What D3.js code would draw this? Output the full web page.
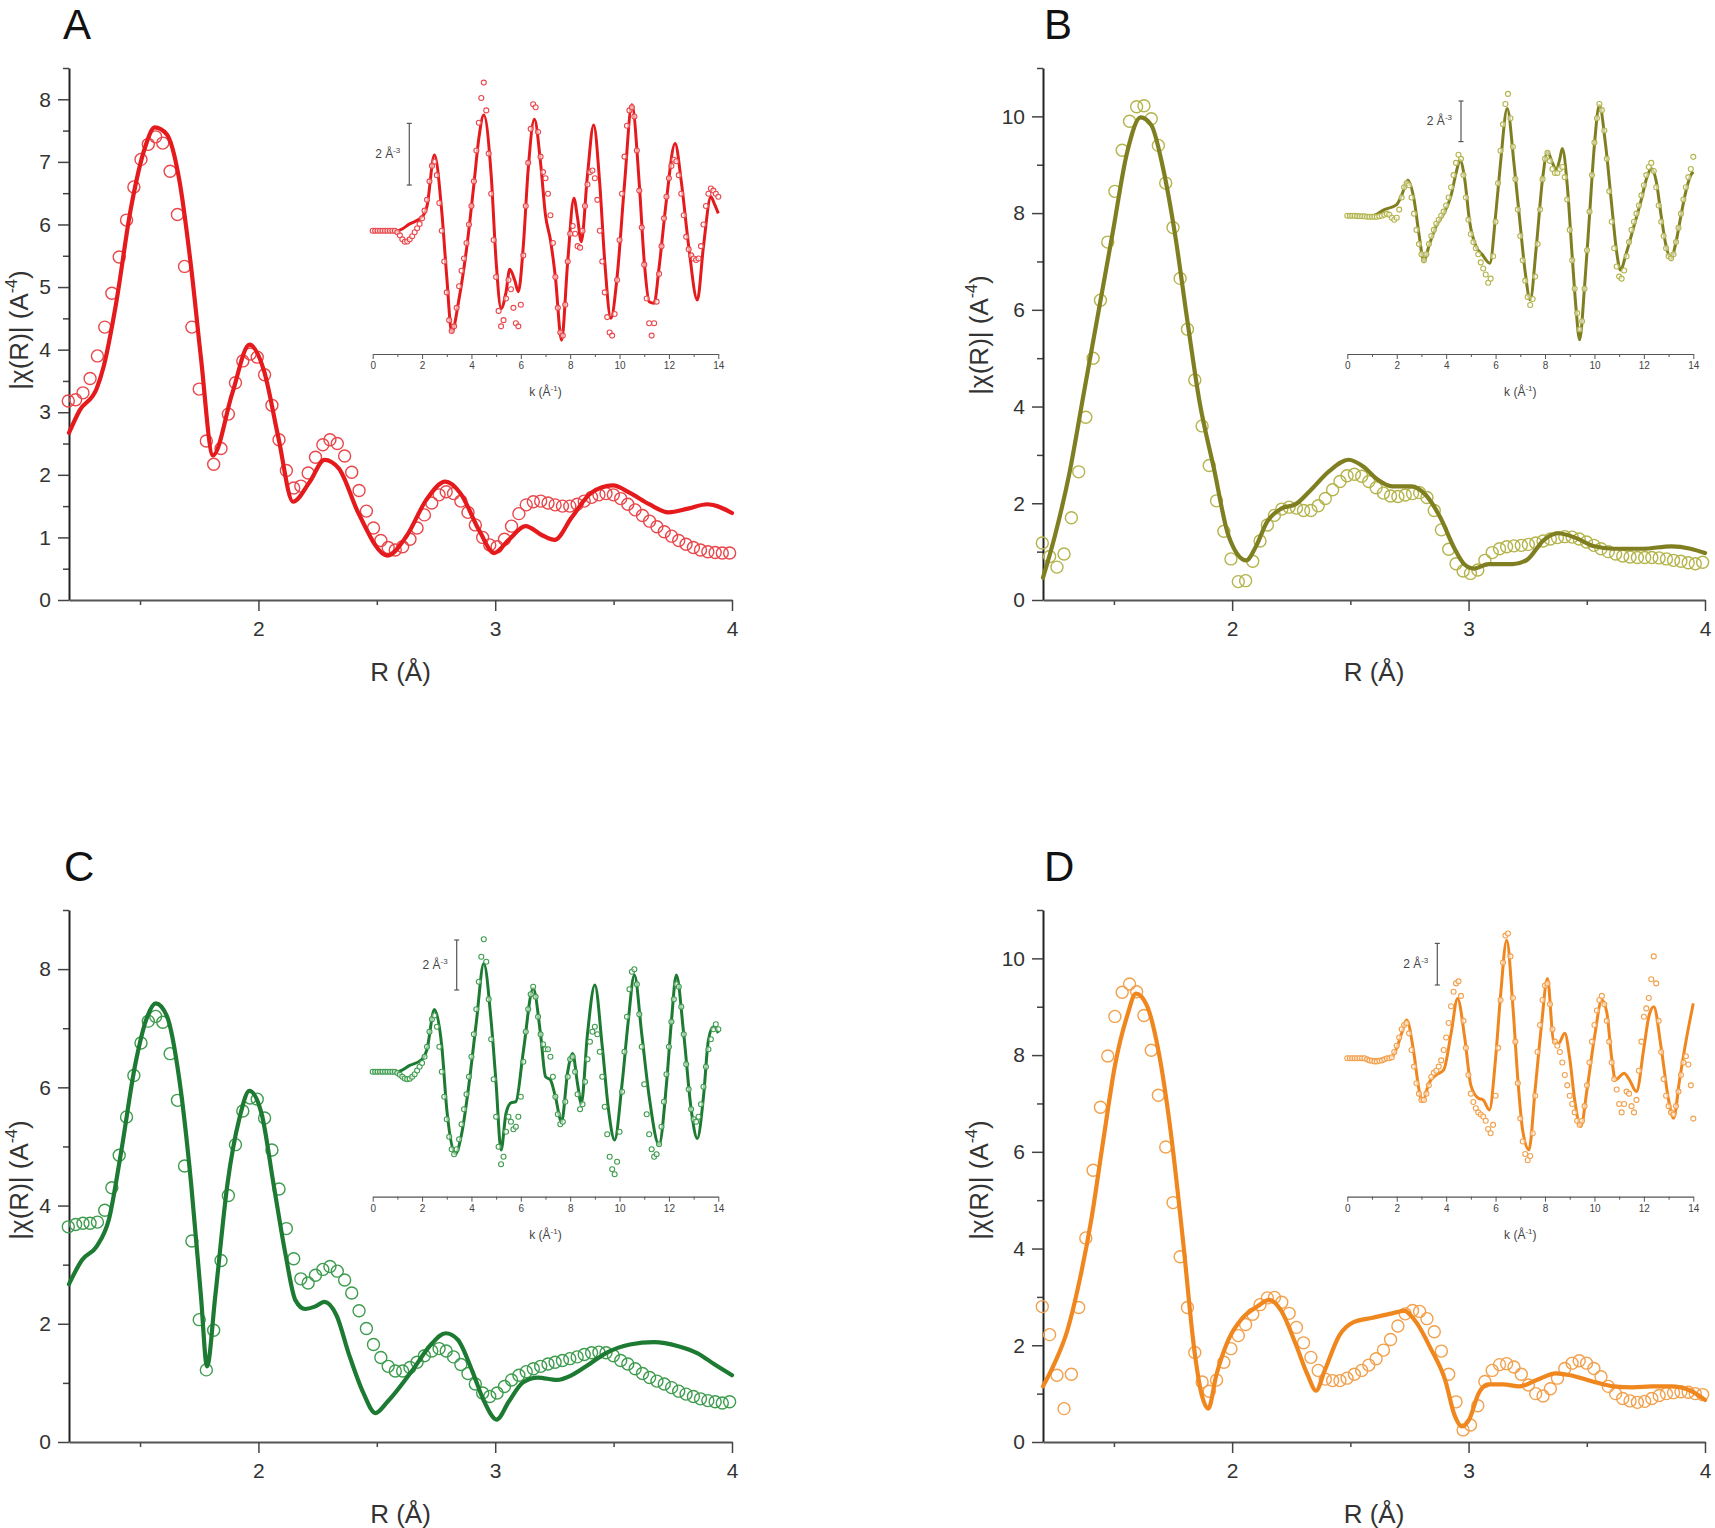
<!DOCTYPE html>
<html><head><meta charset="utf-8">
<script src="https://cdn.jsdelivr.net/npm/d3@7"></script>
<style>
body{margin:0;background:#fff}
svg{display:block}
text{font-family:"Liberation Sans",Arial,sans-serif}
</style>
</head><body>
<svg id="chart" width="1715" height="1528"></svg>
<script>
// ---------- DATA ----------
const rGrid = [1.197,1.228,1.259,1.289,1.320,1.351,1.381,1.412,1.443,1.474,1.504,1.535,1.566,1.596,1.627,1.658,1.688,1.719,1.750,1.780,1.811,1.842,1.873,1.903,1.934,1.965,1.995,2.026,2.057,2.087,2.118,2.149,2.179,2.210,2.241,2.272,2.302,2.333,2.364,2.394,2.425,2.456,2.486,2.517,2.548,2.578,2.609,2.640,2.670,2.701,2.732,2.763,2.793,2.824,2.855,2.885,2.916,2.947,2.977,3.008,3.039,3.069,3.100,3.131,3.161,3.192,3.223,3.253,3.284,3.315,3.346,3.376,3.407,3.438,3.468,3.499,3.530,3.560,3.591,3.622,3.652,3.683,3.714,3.745,3.775,3.806,3.837,3.867,3.898,3.929,3.959,3.990];

const dataA = [3.18,3.20,3.31,3.54,3.90,4.36,4.90,5.48,6.07,6.60,7.04,7.28,7.40,7.30,6.85,6.16,5.33,4.36,3.37,2.54,2.17,2.42,2.97,3.47,3.82,3.93,3.88,3.60,3.11,2.56,2.07,1.79,1.82,2.03,2.28,2.48,2.56,2.50,2.30,2.04,1.75,1.42,1.15,0.95,0.84,0.80,0.85,0.97,1.15,1.36,1.55,1.68,1.73,1.70,1.58,1.40,1.20,1.00,0.88,0.85,0.97,1.18,1.38,1.52,1.57,1.58,1.55,1.52,1.50,1.50,1.53,1.58,1.64,1.68,1.70,1.68,1.62,1.53,1.44,1.35,1.26,1.17,1.09,1.02,0.95,0.89,0.84,0.80,0.77,0.76,0.75,0.75];
const dataB = [1.18,0.90,0.68,0.95,1.70,2.65,3.78,5.00,6.20,7.40,8.45,9.30,9.90,10.20,10.22,9.95,9.40,8.62,7.70,6.65,5.60,4.55,3.60,2.78,2.05,1.42,0.85,0.38,0.40,0.80,1.22,1.55,1.75,1.88,1.92,1.90,1.85,1.85,1.95,2.10,2.28,2.45,2.57,2.60,2.56,2.45,2.32,2.21,2.15,2.14,2.17,2.20,2.22,2.12,1.85,1.45,1.05,0.75,0.60,0.55,0.62,0.82,0.98,1.06,1.10,1.12,1.13,1.15,1.18,1.22,1.26,1.29,1.31,1.30,1.26,1.20,1.13,1.06,1.00,0.95,0.91,0.89,0.88,0.88,0.88,0.87,0.85,0.82,0.80,0.77,0.75,0.78];
const dataC = [3.64,3.68,3.70,3.70,3.72,3.92,4.30,4.85,5.50,6.20,6.75,7.12,7.20,7.10,6.57,5.78,4.67,3.40,2.07,1.22,1.89,3.07,4.17,5.03,5.60,5.82,5.80,5.48,4.94,4.28,3.61,3.10,2.76,2.69,2.82,2.92,2.97,2.89,2.74,2.52,2.22,1.92,1.65,1.43,1.28,1.20,1.20,1.26,1.35,1.46,1.54,1.58,1.54,1.44,1.31,1.16,0.98,0.83,0.77,0.83,0.94,1.05,1.13,1.19,1.24,1.28,1.32,1.35,1.38,1.41,1.44,1.48,1.51,1.52,1.51,1.46,1.38,1.32,1.24,1.16,1.09,1.03,0.98,0.92,0.86,0.81,0.77,0.73,0.70,0.68,0.66,0.68];
const dataD = [2.80,2.22,1.38,0.69,1.40,2.78,4.22,5.62,6.92,7.98,8.80,9.30,9.47,9.31,8.82,8.10,7.17,6.10,4.95,3.83,2.78,1.85,1.24,1.05,1.28,1.65,1.93,2.20,2.43,2.64,2.84,2.98,2.99,2.89,2.66,2.37,2.05,1.75,1.48,1.30,1.27,1.27,1.32,1.40,1.48,1.59,1.72,1.90,2.12,2.40,2.65,2.72,2.70,2.55,2.28,1.88,1.40,0.83,0.25,0.35,0.75,1.25,1.48,1.60,1.62,1.55,1.40,1.18,1.00,0.95,1.10,1.32,1.52,1.63,1.68,1.63,1.52,1.35,1.15,1.00,0.90,0.85,0.82,0.84,0.90,0.96,1.00,1.02,1.04,1.03,1.00,0.98];

const fitA_R = [1.2,1.245,1.317,1.347,1.399,1.46,1.521,1.562,1.613,1.665,1.716,1.757,1.808,1.89,1.962,2.023,2.084,2.146,2.217,2.279,2.34,2.422,2.545,2.627,2.709,2.79,2.852,2.934,2.995,3.057,3.128,3.2,3.251,3.323,3.405,3.497,3.569,3.65,3.732,3.814,3.896,3.937,4.0];
const fitA_V = [2.67,3.03,3.38,3.74,4.74,6.23,7.23,7.55,7.44,6.73,5.31,3.88,2.31,3.31,4.08,3.67,2.60,1.57,1.89,2.24,2.10,1.39,0.71,1.03,1.60,1.89,1.71,1.10,0.75,0.96,1.18,1.03,0.96,1.32,1.71,1.83,1.71,1.53,1.40,1.46,1.53,1.50,1.39];
const fitB_R = [1.2,1.251,1.312,1.373,1.434,1.495,1.556,1.613,1.658,1.709,1.76,1.811,1.862,1.923,1.984,2.06,2.10,2.147,2.208,2.269,2.33,2.412,2.493,2.554,2.615,2.677,2.758,2.819,2.88,2.941,2.982,3.023,3.084,3.186,3.247,3.318,3.379,3.45,3.532,3.613,3.736,3.858,3.939,4.0];
const fitB_V = [0.46,1.34,2.63,4.29,5.94,7.60,9.26,9.98,9.82,8.90,7.51,5.76,4.10,2.72,1.34,0.82,1.10,1.61,1.89,1.98,2.26,2.67,2.90,2.76,2.49,2.35,2.35,2.17,1.71,1.06,0.74,0.65,0.74,0.74,0.83,1.24,1.38,1.29,1.11,1.06,1.06,1.11,1.06,0.97];
const fitC_R = [1.2,1.255,1.317,1.368,1.419,1.48,1.532,1.566,1.613,1.665,1.716,1.757,1.783,1.818,1.869,1.92,1.962,2.013,2.064,2.115,2.156,2.197,2.238,2.279,2.33,2.381,2.443,2.494,2.545,2.648,2.729,2.791,2.842,2.903,2.954,3.006,3.057,3.118,3.18,3.261,3.323,3.384,3.466,3.569,3.671,3.773,3.855,3.927,4.0];
const fitC_V = [2.67,3.08,3.31,3.76,4.88,6.39,7.21,7.42,7.21,6.16,4.36,2.48,1.28,2.48,4.36,5.48,5.94,5.56,4.36,3.16,2.40,2.25,2.29,2.37,2.14,1.50,0.83,0.49,0.68,1.20,1.65,1.84,1.73,1.20,0.68,0.38,0.68,1.01,1.09,1.05,1.13,1.28,1.50,1.65,1.69,1.62,1.50,1.31,1.13];
const fitD_R = [1.2,1.251,1.302,1.353,1.404,1.455,1.505,1.556,1.593,1.638,1.689,1.74,1.791,1.842,1.872,1.899,1.933,1.984,2.045,2.106,2.157,2.208,2.269,2.32,2.355,2.391,2.453,2.514,2.595,2.677,2.728,2.778,2.84,2.901,2.941,2.972,3.002,3.043,3.084,3.145,3.216,3.288,3.369,3.43,3.532,3.613,3.695,3.776,3.857,3.939,4.0];
const fitD_V = [1.15,1.65,2.29,3.30,4.59,6.24,7.80,8.81,9.27,9.04,8.07,6.42,4.22,1.83,0.96,0.69,1.38,2.11,2.57,2.80,2.94,2.71,2.02,1.38,1.06,1.47,2.20,2.48,2.57,2.66,2.71,2.48,1.93,1.28,0.55,0.32,0.46,1.01,1.19,1.19,1.15,1.28,1.42,1.38,1.24,1.15,1.13,1.15,1.15,1.06,0.87];

const kGrid = [0,0.1,0.2,0.3,0.4,0.5,0.6,0.7,0.8,0.9,1.0,1.1,1.2,1.3,1.4,1.5,1.6,1.7,1.8,1.9,2.0,2.1,2.2,2.3,2.4,2.5,2.6,2.7,2.8,2.9,3.0,3.1,3.2,3.3,3.4,3.5,3.6,3.7,3.8,3.9,4.0,4.1,4.2,4.3,4.4,4.5,4.6,4.7,4.8,4.9,5.0,5.1,5.2,5.3,5.4,5.5,5.6,5.7,5.8,5.9,6.0,6.1,6.2,6.3,6.4,6.5,6.6,6.7,6.8,6.9,7.0,7.1,7.2,7.3,7.4,7.5,7.6,7.7,7.8,7.9,8.0,8.1,8.2,8.3,8.4,8.5,8.6,8.7,8.8,8.9,9.0,9.1,9.2,9.3,9.4,9.5,9.6,9.7,9.8,9.9,10.0,10.1,10.2,10.3,10.4,10.5,10.6,10.7,10.8,10.9,11.0,11.1,11.2,11.3,11.4,11.5,11.6,11.7,11.8,11.9,12.0,12.1,12.2,12.3,12.4,12.5,12.6,12.7,12.8,12.9,13.0,13.1,13.2,13.3,13.4,13.5,13.6,13.7,13.8,13.9,14.0];

const insetDataA = [0,0,0,0,0,0,0,0,0,0,
 -0.05,-0.15,-0.28,-0.36,-0.35,-0.28,-0.18,-0.05,0.08,0.22,
 0.4,0.65,1.0,1.6,2.1,2.24,1.8,0.9,0.0,-1.0,
 -2.0,-2.9,-3.25,-3.1,-2.5,-1.8,-1.3,-0.9,-0.4,0.2,
 0.8,1.6,2.6,3.5,4.3,4.8,3.9,2.5,1.2,-0.3,
 -1.5,-2.6,-3.1,-2.9,-2.2,-1.6,-1.9,-2.5,-3.0,-3.1,
 -2.4,-0.8,0.8,2.2,3.3,4.1,4.0,3.2,2.4,1.9,
 1.7,1.2,0.5,-0.4,-1.5,-2.5,-3.3,-3.4,-2.4,-1.0,
 -0.1,0.15,-0.1,-0.5,-0.55,0.0,0.8,1.5,1.9,1.95,
 1.7,1.0,0.0,-1.0,-2.0,-2.8,-3.3,-3.4,-2.7,-1.6,
 -0.3,1.2,2.4,3.4,3.9,4.0,3.7,2.6,1.3,0.1,
 -1.1,-2.2,-3.0,-3.4,-3.0,-2.3,-1.4,-0.5,0.4,1.1,
 1.7,2.1,2.3,2.25,1.8,1.2,0.5,-0.2,-0.6,-0.8,
 -0.9,-0.95,-0.9,-0.5,0.2,0.8,1.2,1.37,1.3,1.2,
 1.1];
const insetDataB = [0,0,0,0,-0.02,-0.03,-0.03,-0.03,-0.05,-0.05,
 -0.05,-0.05,-0.05,-0.03,0.0,0.05,0.1,0.05,-0.1,-0.2,
 -0.1,0.3,0.9,1.4,1.6,1.5,0.9,0.1,-0.7,-1.4,
 -1.9,-2.2,-1.9,-1.4,-1.0,-0.7,-0.4,-0.2,0.0,0.2,
 0.5,0.9,1.4,2.0,2.6,3.0,2.8,2.0,0.9,-0.2,
 -0.9,-1.3,-1.6,-1.9,-2.3,-2.6,-2.9,-3.3,-3.1,-2.0,
 -0.3,1.6,3.2,4.5,5.5,6.0,4.8,3.4,1.8,0.3,
 -1.0,-2.2,-3.2,-4.0,-4.4,-4.1,-3.0,-1.4,0.3,1.8,
 2.8,3.1,2.7,2.3,2.1,2.1,2.3,2.4,1.9,0.8,
 -0.7,-2.2,-3.6,-4.8,-5.6,-5.2,-3.6,-1.7,0.2,2.0,
 3.6,4.8,5.5,5.2,4.2,2.8,1.2,-0.3,-1.6,-2.5,
 -3.0,-3.1,-2.7,-2.0,-1.3,-0.7,-0.3,0.1,0.5,1.0,
 1.5,2.0,2.4,2.6,2.2,1.4,0.5,-0.3,-1.0,-1.6,
 -2.0,-2.1,-1.9,-1.3,-0.6,0.1,0.8,1.4,1.9,2.3,
 2.9];
const insetDataC = [0,0,0,0,0,0,0,0,0,0,
 -0.05,-0.12,-0.2,-0.27,-0.3,-0.28,-0.2,-0.1,0.05,0.2,
 0.35,0.6,1.0,1.6,2.1,2.25,1.8,1.0,0.0,-1.0,
 -1.9,-2.6,-3.1,-3.3,-3.1,-2.7,-2.1,-1.5,-0.9,-0.2,
 0.6,1.5,2.5,3.6,4.6,5.3,4.4,2.9,1.3,-0.3,
 -1.8,-3.0,-3.7,-3.4,-2.4,-1.8,-2.0,-2.3,-2.2,-1.8,
 -1.0,0.4,1.6,2.5,3.1,3.4,3.0,2.2,1.5,1.1,
 0.9,0.9,0.6,-0.2,-1.0,-1.7,-2.1,-2.0,-1.2,-0.2,
 0.5,0.6,0.0,-0.9,-1.5,-1.3,-0.4,0.5,1.2,1.6,
 1.8,1.5,0.8,-0.2,-1.4,-2.5,-3.4,-3.9,-4.1,-3.6,
 -2.4,-0.8,0.8,2.2,3.3,4.0,4.1,3.5,2.3,1.0,
 -0.5,-1.7,-2.5,-3.1,-3.4,-3.3,-2.9,-2.2,-1.2,-0.1,
 1.0,2.0,2.9,3.5,3.4,2.6,1.5,0.3,-0.7,-1.5,
 -1.9,-2.0,-1.8,-1.3,-0.6,0.2,0.9,1.3,1.7,1.9,
 1.7];
const insetDataD = [0,0,0,0,0,0,0,0,-0.05,-0.1,
 -0.12,-0.15,-0.15,-0.12,-0.1,-0.05,0.0,0.0,0.05,0.3,
 0.6,1.0,1.4,1.6,1.7,1.2,0.4,-0.4,-1.2,-1.7,
 -2.0,-2.0,-1.7,-1.3,-0.9,-0.7,-0.6,-0.4,-0.1,0.4,
 1.0,1.7,2.5,3.2,3.6,3.7,3.0,1.8,0.5,-0.8,
 -1.7,-2.1,-2.4,-2.6,-2.7,-2.8,-3.0,-3.4,-3.6,-3.2,
 -1.8,0.5,2.8,4.6,5.9,6.0,4.9,2.9,0.8,-1.2,
 -2.9,-4.0,-4.6,-4.9,-4.7,-3.6,-1.8,0.3,1.6,2.8,
 3.5,3.6,2.6,1.4,0.8,0.6,0.3,-0.2,-0.8,-1.3,
 -1.8,-2.2,-2.6,-3.0,-3.2,-3.0,-2.3,-1.3,-0.2,0.8,
 1.6,2.3,2.8,3.0,2.6,1.8,0.8,-0.2,-1.0,-1.5,
 -2.2,-2.6,-2.2,-1.6,-1.7,-2.3,-2.6,-2.0,-0.6,0.8,
 2.0,2.4,2.9,3.8,4.9,3.6,1.8,0.3,-1.0,-1.8,
 -2.3,-2.6,-2.7,-2.3,-1.6,-0.8,-0.2,0.1,-0.3,-1.3,
 -2.9];

const insetFitA_K = [0,0.5,1.0,1.5,2.0,2.2,2.5,2.8,3.0,3.2,3.5,3.8,4.1,4.3,4.5,4.8,5.0,5.2,5.4,5.55,5.75,5.9,6.1,6.3,6.55,6.8,7.0,7.2,7.4,7.65,7.9,8.15,8.3,8.45,8.7,8.95,9.2,9.4,9.65,9.9,10.2,10.5,10.8,11.0,11.2,11.4,11.6,11.9,12.25,12.5,12.8,13.15,13.4,13.7,13.85,14.0];
const insetFitA_V = [0,0,0,0.22,0.45,0.8,2.45,0.6,-1.5,-3.28,-2.2,-0.6,1.5,3.0,3.75,1.8,-1.0,-2.52,-2.0,-1.25,-1.6,-1.98,-0.5,2.0,3.61,2.2,0.5,-0.3,-1.5,-3.55,-1.0,1.05,0.4,-0.36,1.8,3.43,1.5,-1.0,-2.84,-1.5,1.5,4.08,1.5,-1.0,-2.3,-2.35,-1.2,1.0,2.83,1.6,-0.5,-2.25,-0.5,1.1,0.85,0.56];
const insetFitB_K = [0,0.5,1.0,1.5,2.0,2.2,2.45,2.7,2.9,3.1,3.3,3.6,3.9,4.2,4.4,4.56,4.75,4.95,5.2,5.45,5.77,6.0,6.2,6.47,6.75,7.0,7.2,7.4,7.65,7.9,8.1,8.3,8.45,8.6,8.7,8.9,9.1,9.25,9.4,9.6,9.8,10.0,10.2,10.45,10.7,10.9,11.05,11.3,11.6,11.9,12.1,12.3,12.5,12.7,12.9,13.1,13.3,13.5,13.7,13.9,14.0];
const insetFitB_V = [0,0,0,0.3,0.55,1.0,1.75,0.8,-0.9,-2.26,-1.5,-0.5,0.1,1.0,2.1,2.74,1.8,-0.3,-1.5,-1.9,-2.34,0.0,2.6,5.28,2.5,-0.5,-2.8,-4.15,-1.5,1.8,3.15,2.6,2.25,2.8,3.31,1.5,-2.0,-4.5,-6.11,-3.5,0.0,3.5,5.44,3.5,0.5,-1.8,-2.67,-1.8,-0.5,0.8,1.8,2.33,1.7,0.0,-1.5,-2.1,-1.3,0.0,1.2,2.0,2.16];
const insetFitC_K = [0,1.0,1.5,2.0,2.2,2.5,2.8,3.0,3.35,3.6,3.9,4.2,4.5,4.8,5.0,5.2,5.4,5.6,5.8,6.1,6.5,6.8,7.0,7.2,7.4,7.65,7.9,8.1,8.3,8.45,8.7,9.0,9.3,9.55,9.8,10.1,10.35,10.6,10.9,11.2,11.6,11.9,12.1,12.3,12.6,12.9,13.15,13.4,13.6,13.8,14.0];
const insetFitC_V = [0,0,0.25,0.5,0.9,2.49,1.0,-1.5,-3.29,-2.5,-0.5,2.0,4.33,2.0,-0.5,-3.13,-1.67,-1.25,-1.2,0.8,3.33,1.5,-0.2,-0.33,-1.0,-2.0,0.0,0.73,-0.5,-1.27,1.5,3.47,1.0,-1.5,-2.73,-0.5,2.0,3.87,1.5,-1.0,-2.93,-0.5,2.0,3.87,1.5,-1.5,-2.67,-1.0,1.27,1.8,1.55];
const insetFitD_K = [0,1.0,1.8,2.0,2.2,2.4,2.7,2.9,3.05,3.3,3.6,3.9,4.2,4.46,4.75,5.0,5.3,5.5,5.75,6.0,6.2,6.45,6.7,6.9,7.1,7.35,7.6,7.85,8.1,8.35,8.55,8.8,9.0,9.2,9.45,9.7,10.0,10.3,10.5,10.7,10.85,11.2,11.4,11.7,12.0,12.2,12.4,12.7,13.0,13.2,13.45,13.7,14.0];
const insetFitD_V = [0,-0.08,0.08,0.5,1.2,1.84,0.2,-1.5,-2.08,-1.2,-0.8,-0.56,1.2,2.88,1.0,-1.3,-1.92,-2.0,-2.48,0.0,3.0,5.68,2.5,-1.0,-3.5,-4.4,-1.5,1.5,3.84,0.8,0.72,1.2,0.0,-2.0,-3.28,-1.5,1.0,2.8,2.2,0.0,-1.04,-0.72,-1.0,-1.6,0.5,2.0,2.48,0.5,-2.0,-2.88,-1.0,0.8,2.64];

const rMajorTicks = [2,3,4];
const rMinorTicks = [1.5,2.5,3.5];
const yMajorA = [0,1,2,3,4,5,6,7,8];
const yMinorA = [0.5,1.5,2.5,3.5,4.5,5.5,6.5,7.5,8.5];
const yMajorB = [0,2,4,6,8,10];
const yMinorB = [1,3,5,7,9,11];
const yMajorC = [0,2,4,6,8];
const yMinorC = [1,3,5,7,9];
const kMajorTicks = [0,2,4,6,8,10,12,14];
const kMinorTicks = [1,3,5,7,9,11,13];
const panelLetters = ['A','B','C','D'];

// ---------- LAYOUT ----------
const svg = d3.select('#chart');
const panels = [
  {letter:panelLetters[0], circles:dataA, fitR:fitA_R, fitV:fitA_V, yMax:8.5, yMajor:yMajorA, yMinor:yMinorA,
   line:'#e41a1c', dot:'#e9474b', box:{l:69,r:732,t:68,b:600}, letterXY:[63,39], ylab:[28,330],
   inset:{x0:372.7,x1:718.3,axisY:354,base:230.7,ppu:30.85,barX:409.3,barMid:154.2,
          data:insetDataA, fitK:insetFitA_K, fitV:insetFitA_V}},
  {letter:panelLetters[1], circles:dataB, fitR:fitB_R, fitV:fitB_V, yMax:11, yMajor:yMajorB, yMinor:yMinorB,
   line:'#7f7f22', dot:'#b4b44c', box:{l:1043,r:1705,t:68,b:600}, letterXY:[1044,39], ylab:[988,335],
   inset:{x0:1347.3,x1:1693.3,axisY:354,base:215.7,ppu:20.3,barX:1461,barMid:121.3,
          data:insetDataB, fitK:insetFitB_K, fitV:insetFitB_V}},
  {letter:panelLetters[2], circles:dataC, fitR:fitC_R, fitV:fitC_V, yMax:9, yMajor:yMajorC, yMinor:yMinorC,
   line:'#1d7a32', dot:'#3e9c4e', box:{l:69,r:732,t:910,b:1442}, letterXY:[64,881], ylab:[28,1180],
   inset:{x0:372.7,x1:718.3,axisY:1196.7,base:1071.7,ppu:25,barX:456.7,barMid:965,
          data:insetDataC, fitK:insetFitC_K, fitV:insetFitC_V}},
  {letter:panelLetters[3], circles:dataD, fitR:fitD_R, fitV:fitD_V, yMax:11, yMajor:yMajorB, yMinor:yMinorB,
   line:'#f0861e', dot:'#f2a04c', box:{l:1043,r:1705,t:910,b:1442}, letterXY:[1044,881], ylab:[988,1180],
   inset:{x0:1347.3,x1:1693.3,axisY:1196.7,base:1058.3,ppu:20.8,barX:1437.3,barMid:964.2,
          data:insetDataD, fitK:insetFitD_K, fitV:insetFitD_V}}
];

function styleAxis(g, color, width){
  g.select('.domain').attr('stroke', color).attr('stroke-width', width);
  g.selectAll('.tick line').attr('stroke', '#444').attr('stroke-width', 1.5);
}

panels.forEach(p => {
  const b = p.box;
  const x = d3.scaleLinear().domain([1.2, 4]).range([b.l, b.r]);
  const y = d3.scaleLinear().domain([0, p.yMax]).range([b.b, b.t]);
  const g = svg.append('g');

  // panel letter
  g.append('text').attr('x', p.letterXY[0]).attr('y', p.letterXY[1])
    .attr('font-size', 42).attr('fill', '#111').text(p.letter);

  // y axis: minor then major
  const yMin = g.append('g').attr('transform', `translate(${b.l},0)`)
    .call(d3.axisLeft(y).tickValues(p.yMinor).tickSize(6).tickSizeOuter(0).tickFormat(''));
  yMin.select('.domain').remove();
  yMin.selectAll('.tick line').attr('stroke', '#444').attr('stroke-width', 1.5);
  const yAx = g.append('g').attr('transform', `translate(${b.l},0)`)
    .call(d3.axisLeft(y).tickValues(p.yMajor).tickSize(11).tickSizeOuter(0).tickPadding(7).tickFormat(d3.format('d')));
  styleAxis(yAx, '#222', 2);
  yAx.selectAll('text').attr('font-size', 21).attr('fill', '#333')
     .style('font-family', '"Liberation Sans", Arial, sans-serif');

  // x axis
  const xMin = g.append('g').attr('transform', `translate(0,${b.b})`)
    .call(d3.axisBottom(x).tickValues(rMinorTicks).tickSize(5).tickSizeOuter(0).tickFormat(''));
  xMin.select('.domain').remove();
  xMin.selectAll('.tick line').attr('stroke', '#444').attr('stroke-width', 1.5);
  const xAx = g.append('g').attr('transform', `translate(0,${b.b})`)
    .call(d3.axisBottom(x).tickValues(rMajorTicks).tickSize(11).tickSizeOuter(0).tickPadding(10).tickFormat(d3.format('d')));
  styleAxis(xAx, '#555', 2);
  xAx.selectAll('text').attr('font-size', 21).attr('fill', '#333')
     .style('font-family', '"Liberation Sans", Arial, sans-serif');

  // axis titles
  g.append('text').attr('x', (b.l + b.r) / 2).attr('y', b.b + 81)
    .attr('text-anchor', 'middle').attr('font-size', 26).attr('fill', '#333').text('R (Å)');
  const yl = g.append('text').attr('transform', `translate(${p.ylab[0]},${p.ylab[1]}) rotate(-90)`)
    .attr('text-anchor', 'middle').attr('font-size', 26).attr('fill', '#333');
  yl.append('tspan').text('|χ(R)| (A');
  yl.append('tspan').attr('font-size', 16).attr('dy', -11).text('-4');
  yl.append('tspan').attr('dy', 11).text(')');

  // data circles
  const pts = rGrid.map((r, i) => [r, p.circles[i]]);
  g.append('g').selectAll('circle').data(pts).join('circle')
    .attr('cx', d => x(d[0])).attr('cy', d => y(d[1])).attr('r', 6)
    .attr('fill', 'none').attr('stroke', p.dot).attr('stroke-width', 1.4);

  // fit line
  const fitPts = p.fitR.map((r, i) => [r, p.fitV[i]]);
  g.append('path').datum(fitPts)
    .attr('d', d3.line().x(d => x(d[0])).y(d => y(d[1])).curve(d3.curveMonotoneX))
    .attr('fill', 'none').attr('stroke', p.line).attr('stroke-width', 4.2)
    .attr('stroke-linejoin', 'round').attr('stroke-linecap', 'round');

  // ---------- inset ----------
  const s = p.inset;
  const kx = d3.scaleLinear().domain([0, 14]).range([s.x0, s.x1]);
  const ky = d3.scaleLinear().domain([0, 1]).range([s.base, s.base - s.ppu]);
  const ig = svg.append('g');

  const kMin = ig.append('g').attr('transform', `translate(0,${s.axisY})`)
    .call(d3.axisBottom(kx).tickValues(kMinorTicks).tickSize(3).tickSizeOuter(0).tickFormat(''));
  kMin.select('.domain').remove();
  kMin.selectAll('.tick line').attr('stroke', '#555').attr('stroke-width', 1);
  const kAx = ig.append('g').attr('transform', `translate(0,${s.axisY})`)
    .call(d3.axisBottom(kx).tickValues(kMajorTicks).tickSize(5).tickSizeOuter(0).tickPadding(3).tickFormat(d3.format('d')));
  kAx.select('.domain').attr('stroke', '#555').attr('stroke-width', 1.2);
  kAx.selectAll('.tick line').attr('stroke', '#555').attr('stroke-width', 1);
  kAx.selectAll('text').attr('font-size', 10).attr('fill', '#444')
     .style('font-family', '"Liberation Sans", Arial, sans-serif');

  const kl = ig.append('text').attr('x', (s.x0 + s.x1) / 2).attr('y', s.axisY + 42)
    .attr('text-anchor', 'middle').attr('font-size', 12).attr('fill', '#444');
  kl.append('tspan').text('k (Å');
  kl.append('tspan').attr('font-size', 8).attr('dy', -5).text('-1');
  kl.append('tspan').attr('dy', 5).text(')');

  // scale bar (2 units)
  const half = ky(0) - ky(1);
  const bar = ig.append('g').attr('stroke', '#555').attr('stroke-width', 1.2);
  bar.append('line').attr('x1', s.barX).attr('x2', s.barX).attr('y1', s.barMid - half).attr('y2', s.barMid + half);
  bar.append('line').attr('x1', s.barX - 2.5).attr('x2', s.barX + 2.5).attr('y1', s.barMid - half).attr('y2', s.barMid - half);
  bar.append('line').attr('x1', s.barX - 2.5).attr('x2', s.barX + 2.5).attr('y1', s.barMid + half).attr('y2', s.barMid + half);
  const bl = ig.append('text').attr('x', s.barX - 9).attr('y', s.barMid + 4)
    .attr('text-anchor', 'end').attr('font-size', 12).attr('fill', '#444');
  bl.append('tspan').text('2 Å');
  bl.append('tspan').attr('font-size', 8).attr('dy', -5).text('-3');

  // fit line (inset)
  const iFit = s.fitK.map((k, i) => [k, s.fitV[i]]);
  ig.append('path').datum(iFit)
    .attr('d', d3.line().x(d => kx(d[0])).y(d => ky(d[1])).curve(d3.curveMonotoneX))
    .attr('fill', 'none').attr('stroke', p.line).attr('stroke-width', 3).attr('stroke-linejoin', 'round');

  // data circles (inset)
  const iPts = kGrid.map((k, i) => [k, s.data[i]]);
  ig.append('g').selectAll('circle').data(iPts).join('circle')
    .attr('cx', d => kx(d[0])).attr('cy', d => ky(d[1])).attr('r', 2.5)
    .attr('fill', '#fff').attr('fill-opacity', 0.6).attr('stroke', p.dot).attr('stroke-width', 1.1);
});
</script>
</body></html>
